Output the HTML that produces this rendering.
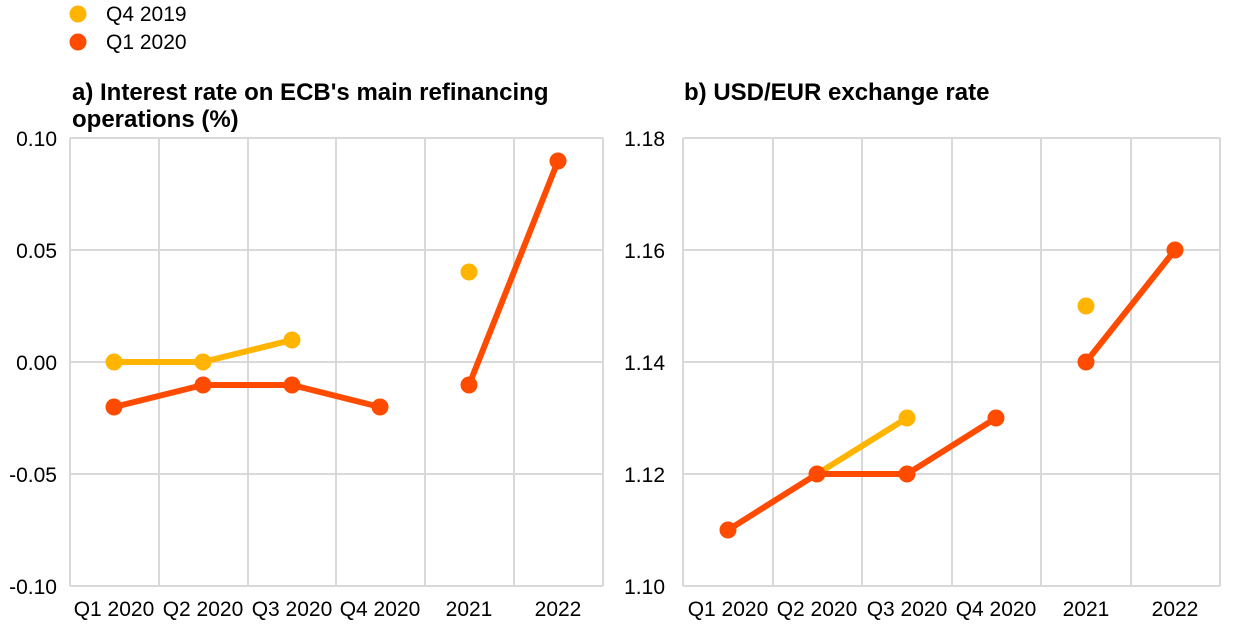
<!DOCTYPE html>
<html><head><meta charset="utf-8"><style>body{margin:0;background:#fff}svg{display:block}text{font-family:"Liberation Sans",Arial,sans-serif}</style></head><body>
<svg width="1240" height="632" viewBox="0 0 1240 632">
<circle cx="78" cy="14" r="8.5" fill="#FFB400"/><text x="106" y="21" font-size="21" fill="#000">Q4 2019</text>
<circle cx="78" cy="42" r="8.5" fill="#FF4B00"/><text x="106" y="49" font-size="21" fill="#000">Q1 2020</text>
<text x="72" y="100" font-size="24" font-weight="bold">a) Interest rate on ECB's main refinancing</text>
<text x="72" y="127" font-size="24" font-weight="bold">operations (%)</text>
<text x="684" y="100" font-size="24" font-weight="bold">b) USD/EUR exchange rate</text>
<g stroke="#d9d9d9" stroke-width="2" fill="none">
<path d="M70 138H603M70 250H603M70 362H603M70 474H603M70 586H603"/>
<path d="M70 138V586M159 138V586M248 138V586M336 138V586M425 138V586M514 138V586M603 138V586"/>
<path d="M683 138H1220M683 250H1220M683 362H1220M683 474H1220M683 586H1220"/>
<path d="M683 138V586M773 138V586M862 138V586M952 138V586M1041 138V586M1131 138V586M1220 138V586"/>
</g>
<g font-size="21" text-anchor="end">
<text x="57" y="146">0.10</text><text x="57" y="258">0.05</text><text x="57" y="370">0.00</text><text x="57" y="482">-0.05</text><text x="57" y="594">-0.10</text>
<text x="665" y="146">1.18</text><text x="665" y="258">1.16</text><text x="665" y="370">1.14</text><text x="665" y="482">1.12</text><text x="665" y="594">1.10</text>
</g>
<g font-size="21" text-anchor="middle">
<text x="114" y="616">Q1 2020</text><text x="203" y="616">Q2 2020</text><text x="292" y="616">Q3 2020</text><text x="380" y="616">Q4 2020</text><text x="469" y="616">2021</text><text x="558" y="616">2022</text>
<text x="728" y="616">Q1 2020</text><text x="817" y="616">Q2 2020</text><text x="907" y="616">Q3 2020</text><text x="996" y="616">Q4 2020</text><text x="1086" y="616">2021</text><text x="1175" y="616">2022</text>
</g>
<g stroke-width="6" fill="none" stroke-linejoin="round">
<path d="M114 362L203 362L292 340" stroke="#FFB400"/>
<path d="M114 407L203 385L292 385L380 407M469 385L558 161" stroke="#FF4B00"/>
<path d="M817 474L907 418" stroke="#FFB400"/>
<path d="M728 530L817 474L907 474L996 418M1086 362L1175 250" stroke="#FF4B00"/>
</g>
<g fill="#FFB400">
<circle cx="114" cy="362" r="8.5"/><circle cx="203" cy="362" r="8.5"/><circle cx="292" cy="340" r="8.5"/><circle cx="469" cy="272" r="8.5"/>
<circle cx="907" cy="418" r="8.5"/><circle cx="1086" cy="306" r="8.5"/>
</g>
<g fill="#FF4B00">
<circle cx="114" cy="407" r="8.5"/><circle cx="203" cy="385" r="8.5"/><circle cx="292" cy="385" r="8.5"/><circle cx="380" cy="407" r="8.5"/><circle cx="469" cy="385" r="8.5"/><circle cx="558" cy="161" r="8.5"/>
<circle cx="728" cy="530" r="8.5"/><circle cx="817" cy="474" r="8.5"/><circle cx="907" cy="474" r="8.5"/><circle cx="996" cy="418" r="8.5"/><circle cx="1086" cy="362" r="8.5"/><circle cx="1175" cy="250" r="8.5"/>
</g>
</svg>
</body></html>
